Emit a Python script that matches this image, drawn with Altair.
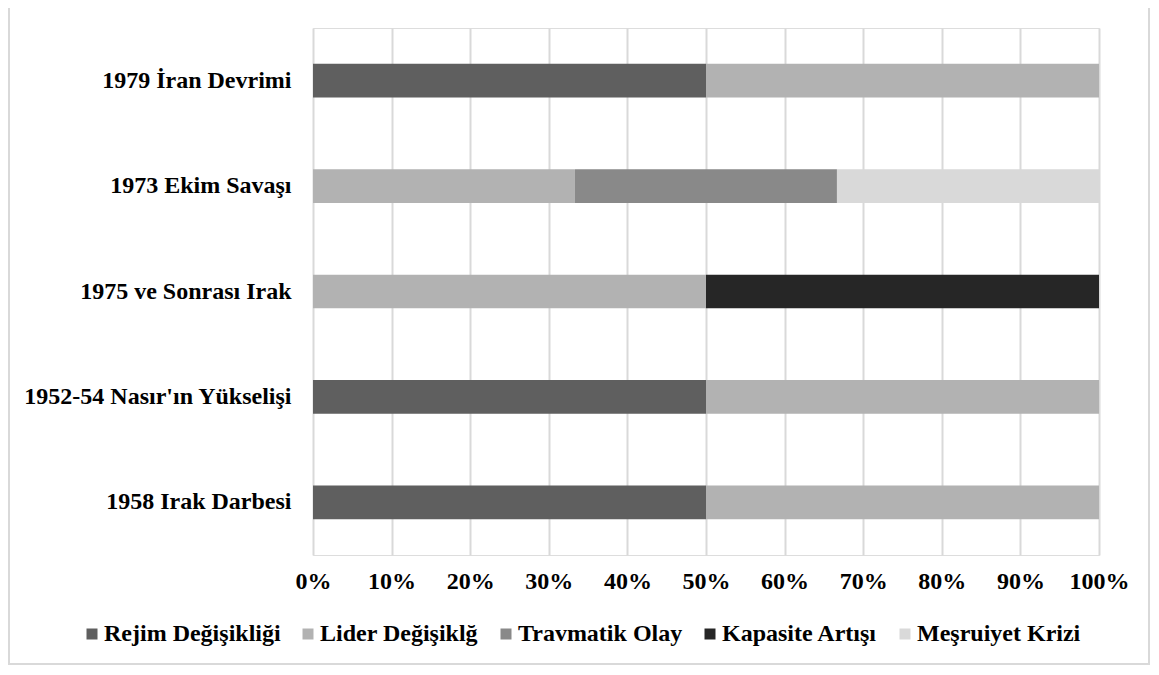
import altair as alt
import pandas as pd

categories = [
    "1979 İran Devrimi",
    "1973 Ekim Savaşı",
    "1975 ve Sonrası Irak",
    "1952-54 Nasır'ın Yükselişi",
    "1958 Irak Darbesi",
]
series = ["Rejim Değişikliği", "Lider Değişiklğ", "Travmatik Olay", "Kapasite Artışı", "Meşruiyet Krizi"]
colors = ["#5f5f5f", "#b2b2b2", "#898989", "#262626", "#d9d9d9"]

rejim = [50, 0, 0, 50, 50]
lider = [50, 33.33, 50, 50, 50]
travmatik = [0, 33.33, 0, 0, 0]
kapasite = [0, 0, 50, 0, 0]
mesruiyet = [0, 33.34, 0, 0, 0]

values = [rejim, lider, travmatik, kapasite, mesruiyet]
rows = []
for si, s in enumerate(series):
    for ci, c in enumerate(categories):
        v = values[si][ci]
        if v > 0:
            rows.append({"category": c, "series": s, "order": si, "value": v})
df = pd.DataFrame(rows)

FONT = "Liberation Serif"

bars = alt.Chart(df).mark_bar().encode(
    y=alt.Y(
        "category:N",
        sort=categories,
        title=None,
        scale=alt.Scale(paddingInner=0.68, paddingOuter=0.34),
        axis=alt.Axis(
            domain=False, ticks=False, tickSize=0, grid=False, labelPadding=22,
            labelFont=FONT, labelFontSize=24, labelFontWeight="bold",
            labelColor="#000000", labelLimit=500,
        ),
    ),
    x=alt.X(
        "value:Q",
        stack="normalize",
        title=None,
        scale=alt.Scale(domain=[0, 1], nice=False),
        axis=alt.Axis(
            format="%", values=[i / 10 for i in range(11)],
            domain=False, ticks=False, tickSize=0, grid=True,
            gridColor="#d9d9d9", gridWidth=2, labelPadding=14,
            labelFont=FONT, labelFontSize=24, labelFontWeight="bold",
            labelColor="#000000", labelFlush=False,
        ),
    ),
    color=alt.Color(
        "series:N",
        sort=series,
        scale=alt.Scale(domain=series, range=colors),
        legend=alt.Legend(
            title=None, orient="none", direction="horizontal",
            legendX=-233, legendY=594, padding=0,
            symbolType="square", symbolSize=121, symbolStrokeWidth=0,
            labelFont=FONT, labelFontSize=24, labelFontWeight="bold",
            labelColor="#000000", labelLimit=500, labelOffset=0,
            columnPadding=15, columns=5,
        ),
    ),
    order=alt.Order("order:Q", sort="ascending"),
)

border = alt.Chart(pd.DataFrame({"a": [0]})).mark_rect(
    fill=None, fillOpacity=0, stroke="#d9d9d9", strokeWidth=2
).encode(
    x=alt.value(-304), x2=alt.value(836), y=alt.value(-27), y2=alt.value(636)
)

chart = alt.layer(border, bars).properties(
    width=786,
    height=527,
    autosize=alt.AutoSizeParams(type="none"),
    padding={"left": 305, "top": 20, "right": 52, "bottom": 111},
).configure_view(stroke=None).configure(background="#ffffff")

chart.save("out.html", embed_options={"renderer": "svg", "actions": False})
